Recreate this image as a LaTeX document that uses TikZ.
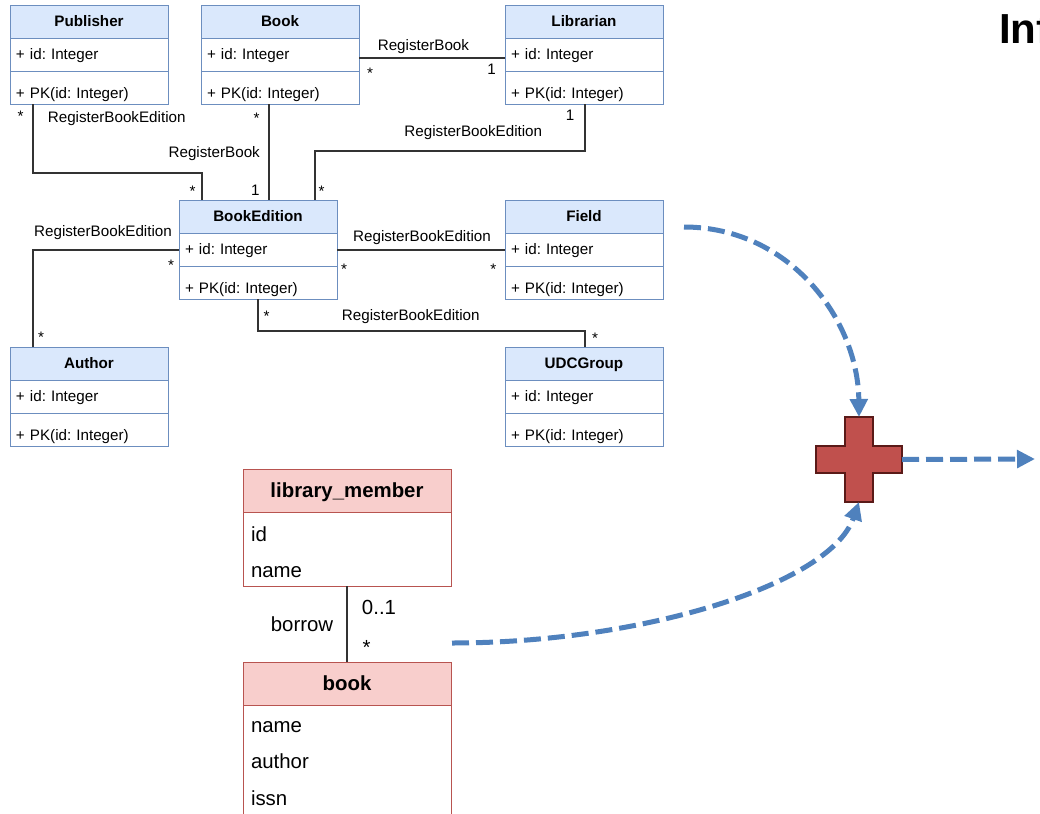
\documentclass[tikz,border=0pt]{standalone}
\usepackage{fontspec}
\setmainfont{Liberation Sans}
\usetikzlibrary{arrows.meta}
\frenchspacing

\definecolor{clsfill}{HTML}{DAE8FC}
\definecolor{clsline}{HTML}{6C8EBF}
\definecolor{entfill}{HTML}{F8CECC}
\definecolor{entline}{HTML}{B85450}
\definecolor{flowblue}{HTML}{4F81BD}
\definecolor{plusfill}{HTML}{C0504D}
\definecolor{plusline}{HTML}{5A1A18}

\newcommand\umlfont{\fontsize{11.4}{13.7}\selectfont}
\newcommand\entfont{\fontsize{15.3}{18.4}\selectfont}

\tikzset{
  every node/.style={outer sep=0pt},
  clshead/.style={draw=clsline, fill=clsfill, line width=0.75pt,
    minimum width=118.5pt, minimum height=24.75pt, inner sep=0pt,
    font=\umlfont\bfseries, text height=8.2pt, text depth=0pt, anchor=north west},
  clsrow/.style={draw=clsline, fill=white, line width=0.75pt,
    inner xsep=4.5pt, inner ysep=0pt, text width=109.5pt, align=left,
    minimum height=24.75pt, font=\umlfont, anchor=north west},
  clsattr/.style={clsrow, text height=8.2pt, text depth=0pt},
  clsmeth/.style={clsrow, text height=16.6pt, text depth=0pt},
  lbl/.style={font=\umlfont, inner sep=0pt, anchor=base},
  assoc/.style={draw=black!80, line width=0.8pt},
  enthead/.style={draw=entline, fill=entfill, line width=0.75pt,
    minimum width=156pt, minimum height=32.25pt, inner sep=0pt,
    font=\entfont\bfseries, text height=11pt, text depth=0pt, anchor=north west},
  entbody/.style={draw=entline, fill=white, line width=0.75pt,
    minimum width=156pt, inner sep=0pt, anchor=north west},
  entattr/.style={font=\entfont, inner sep=0pt, anchor=base west},
  entlbl/.style={font=\entfont, inner sep=0pt, anchor=base},
  flow/.style={draw=flowblue, line width=3.75pt, dash pattern=on 12.75pt off 5.25pt,
    -{Triangle[length=13.5pt,width=13pt]}},
}

% class box: name, left x, top y, title
\newcommand\umlclass[4]{%
  \node[clshead] (#1) at (#2,#3) {#4};
  \node[clsattr] (#1-a) at (#1.south west) {+ id: Integer};
  \node[clsmeth] (#1-m) at (#1-a.south west) {+ PK(id: Integer)};
}

\begin{document}
\begin{tikzpicture}[x=0.75pt, y=-0.75pt]
  \useasboundingbox (0,0) rectangle (1040,814);
  \fill[white] (0,0) rectangle (1040,814);

  % domain classes
  \umlclass{pub}{10}{5}{Publisher}
  \umlclass{book}{201}{5}{Book}
  \umlclass{lib}{505}{5}{Librarian}
  \umlclass{be}{179}{200}{BookEdition}
  \umlclass{field}{505}{200}{Field}
  \umlclass{author}{10}{347}{Author}
  \umlclass{udc}{505}{347}{UDCGroup}

  % associations
  \draw[assoc] (book-a.east |- 0,58) -- (lib-a.west |- 0,58);
  \node[lbl] (t1) at (423.4,50) {RegisterBook};
  \node[lbl] (t1a) at (370,78.8) {*};
  \node[lbl] (t1b) at (491.5,74) {1};

  \draw[assoc] (pub-m.south -| 33,0) -- (33,173) -- (202,173) -- (be.north -| 202,0);
  \node[lbl] (t2) at (116.7,122.7) {RegisterBookEdition};
  \node[lbl] (t2a) at (20.7,121.5) {*};
  \node[lbl] (t2b) at (192.7,196.5) {*};

  \draw[assoc] (book-m.south -| 269,0) -- (be.north -| 269,0);
  \node[lbl] (t3) at (214.2,157.3) {RegisterBook};
  \node[lbl] (t3a) at (256.7,123.8) {*};
  \node[lbl] (t3b) at (255.3,195) {1};

  \draw[assoc] (lib-m.south -| 585,0) -- (585,151) -- (315,151) -- (be.north -| 315,0);
  \node[lbl] (t4) at (473.3,136.7) {RegisterBookEdition};
  \node[lbl] (t4a) at (570,120.7) {1};
  \node[lbl] (t4b) at (321.7,196.5) {*};

  \draw[assoc] (be-a.west |- 0,250) -- (33,250) -- (author.north -| 33,0);
  \node[lbl] (t5) at (103,236) {RegisterBookEdition};
  \node[lbl] (t5a) at (171,270.5) {*};
  \node[lbl] (t5b) at (41,342.8) {*};

  \draw[assoc] (be-a.east |- 0,250) -- (field-a.west |- 0,250);
  \node[lbl] (t6) at (422,241.7) {RegisterBookEdition};
  \node[lbl] (t6a) at (344,274.8) {*};
  \node[lbl] (t6b) at (493.3,274.8) {*};

  \draw[assoc] (be-m.south -| 258,0) -- (258,331) -- (585,331) -- (udc.north -| 585,0);
  \node[lbl] (t7) at (410.8,320.7) {RegisterBookEdition};
  \node[lbl] (t7a) at (266.7,321.5) {*};
  \node[lbl] (t7b) at (595,343.8) {*};

  % entity classes
  \node[enthead] (lm) at (243,469) {library\_member};
  \node[entbody, minimum height=55.5pt] (lm-b) at (lm.south west) {};
  \node[entattr] (lm-id) at (251,541) {id};
  \node[entattr] (lm-name) at (251,577) {name};

  \node[enthead] (bk) at (243,662) {book};
  \node[entbody, minimum height=84pt] (bk-b) at (bk.south west) {};
  \node[entattr] (bk-name) at (251,732) {name};
  \node[entattr] (bk-author) at (251,768) {author};
  \node[entattr] (bk-issn) at (251,805) {issn};

  \draw[assoc] (lm-b.south) -- (bk.north);
  \node[entlbl] (tb) at (302,631.7) {borrow};
  \node[entlbl] (tba) at (379,614) {0..1};
  \node[entlbl] (tbb) at (366.7,654.4) {*};

  % merge symbol
  \node[minimum width=64.5pt, minimum height=63.75pt, inner sep=0pt] (plus) at (859,459.5) {};
  \draw[draw=plusline, fill=plusfill, line width=1.2pt]
    (845,417) -- (873,417) -- (873,446) -- (902,446) -- (902,473) -- (873,473)
    -- (873,502) -- (845,502) -- (845,473) -- (816,473) -- (816,446) -- (845,446) -- cycle;

  % flow arrows
  \coordinate (f1) at (684,227);
  \coordinate (f2) at (452,643);
  \coordinate (f3) at (1035,459);
  \draw[flow] (f1) .. controls (790,227) and (858,320) .. (plus.north);
  \draw[flow] (f2) .. controls (640,643) and (830,585) .. (plus.south);
  \draw[flow] (plus.east) -- (f3);

  % heading, running on past the right edge
  \node[font=\fontsize{31.5}{36}\selectfont\bfseries, inner sep=0pt, anchor=base west] (head) at (999,43) {Inf};
\end{tikzpicture}
\end{document}
